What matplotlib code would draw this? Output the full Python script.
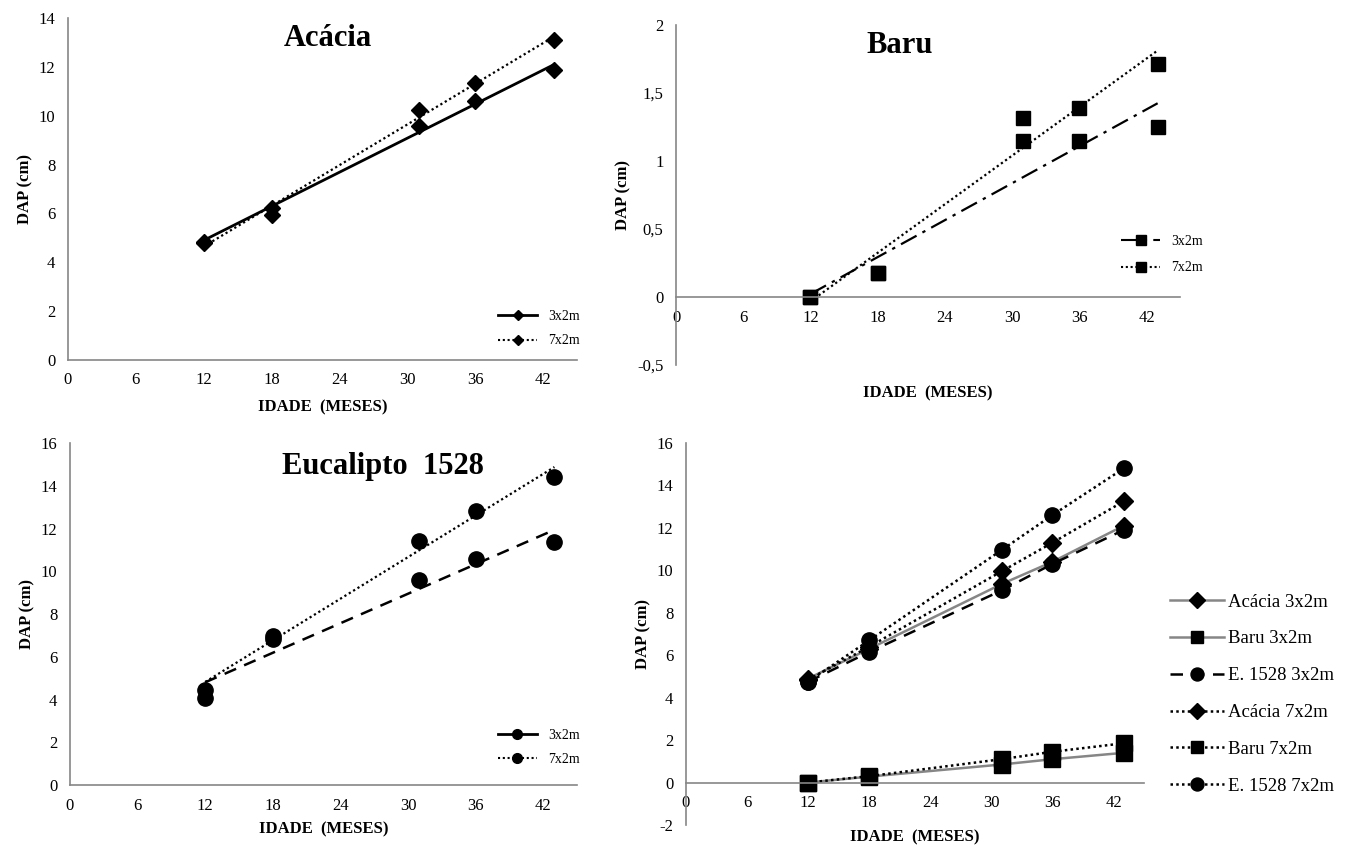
import numpy as np
import matplotlib
matplotlib.use('Agg')
from matplotlib import pyplot as plt
from matplotlib.lines import Line2D

plt.rcParams['font.family'] = ['Liberation Serif', 'DejaVu Serif']
plt.rcParams['axes.unicode_minus'] = False

# idade das plantas (meses) e ticks do eixo x
idade = [12, 18, 31, 36, 43]
meses_ticks = [0, 6, 12, 18, 24, 30, 36, 42]

# DAP medido (cm)
acacia_3x2 = [4.82, 6.22, 9.58, 10.6, 11.85]
acacia_7x2 = [4.8, 5.95, 10.25, 11.32, 13.1]
baru_3x2 = [0.0, 0.18, 1.15, 1.15, 1.25]
baru_7x2 = [0.0, 0.18, 1.32, 1.39, 1.71]
euca_3x2 = [4.05, 6.85, 9.6, 10.58, 11.36]
euca_7x2 = [4.45, 6.95, 11.44, 12.83, 14.39]

# painel conjunto
conj_acacia_3x2 = [4.9, 6.3, 9.35, 10.4, 12.1]
conj_baru_3x2 = [0.0, 0.28, 0.85, 1.1, 1.4]
conj_euca_3x2 = [4.75, 6.15, 9.05, 10.3, 11.9]
conj_acacia_7x2 = [4.85, 6.4, 9.95, 11.3, 13.25]
conj_baru_7x2 = [0.0, 0.3, 1.1, 1.45, 1.85]
conj_euca_7x2 = [4.75, 6.7, 10.95, 12.6, 14.8]

baru_yticks = [-0.5, 0, 0.5, 1, 1.5, 2]
baru_ylabels = ['-0,5', '0', '0,5', '1', '1,5', '2']

PONTO = (0, (1, 1.3))
TRACO = (0, (5, 3.5))
TRACO_PONTO = (0, (8, 3, 1.5, 3))
CINZA = '#868686'


def estilo(ax, ylim, yticks, zero=False):
    ax.set_xlim(0, 45)
    ax.set_xticks(meses_ticks)
    ax.set_ylim(ylim)
    ax.set_yticks(yticks)
    for s in ['top', 'right']:
        ax.spines[s].set_visible(False)
    for s in ['left', 'bottom']:
        ax.spines[s].set_color(CINZA)
        ax.spines[s].set_linewidth(1.2)
    if zero:
        ax.spines['bottom'].set_position(('data', 0))
    ax.tick_params(length=0, labelsize=12, pad=9)
    ax.set_ylabel('DAP (cm)', fontsize=12, fontweight='bold')


def tendencia(ax, x, y, ls, lw=1.6):
    a, b = np.polyfit(x, y, 1)
    xs = np.array([min(x), max(x)])
    ax.plot(xs, a * xs + b, ls=ls, color='k', lw=lw)


fig = plt.figure(figsize=(13.48, 8.52), dpi=100)

# --- Acacia
ax1 = fig.add_axes([0.0504, 0.5775, 0.3776, 0.4014])
estilo(ax1, (0, 14), range(0, 15, 2))
tendencia(ax1, idade, acacia_3x2, '-', 2)
tendencia(ax1, idade, acacia_7x2, PONTO)
ax1.plot(idade, acacia_3x2, 'D', color='k', ms=8.5, ls='none')
ax1.plot(idade, acacia_7x2, 'D', color='k', ms=8.5, ls='none')
ax1.text(0.51, 0.94, 'Acácia', transform=ax1.transAxes, ha='center', va='center',
         fontsize=22, fontweight='bold')
ax1.set_xlabel('IDADE  (MESES)', fontsize=12, fontweight='bold', labelpad=8)
h = [Line2D([], [], color='k', ls='-', lw=2, marker='D', ms=5),
     Line2D([], [], color='k', ls=PONTO, lw=1.5, marker='D', ms=5)]
ax1.legend(h, ['3x2m', '7x2m'], frameon=False, fontsize=10, loc='lower right',
           bbox_to_anchor=(1.03, 0.0), handlelength=2.8, labelspacing=0.8)

# --- Baru
ax2 = fig.add_axes([0.5015, 0.5716, 0.3739, 0.399])
estilo(ax2, (-0.5, 2), baru_yticks, zero=True)
ax2.set_yticklabels(baru_ylabels)
tendencia(ax2, idade, baru_3x2, TRACO_PONTO)
tendencia(ax2, idade, baru_7x2, PONTO)
ax2.plot(idade, baru_3x2, 's', color='k', ms=10, ls='none')
ax2.plot(idade, baru_7x2, 's', color='k', ms=10, ls='none')
ax2.text(0.444, 0.94, 'Baru', transform=ax2.transAxes, ha='center', va='center',
         fontsize=22, fontweight='bold')
ax2.set_xlabel('IDADE  (MESES)', fontsize=12, fontweight='bold')
ax2.xaxis.set_label_coords(0.5, -0.06)
h = [Line2D([], [], color='k', ls=TRACO_PONTO, lw=1.5, marker='s', ms=7),
     Line2D([], [], color='k', ls=PONTO, lw=1.5, marker='s', ms=7)]
ax2.legend(h, ['3x2m', '7x2m'], frameon=False, fontsize=10, loc='center right',
           bbox_to_anchor=(1.07, 0.325), handlelength=2.8, labelspacing=1.0)

# --- Eucalipto 1528
ax3 = fig.add_axes([0.0519, 0.0786, 0.3761, 0.4014])
estilo(ax3, (0, 16), range(0, 17, 2))
tendencia(ax3, idade, euca_3x2, TRACO, 1.8)
tendencia(ax3, idade, euca_7x2, PONTO)
ax3.plot(idade, euca_3x2, 'o', color='k', ms=11, ls='none')
ax3.plot(idade, euca_7x2, 'o', color='k', ms=11, ls='none')
ax3.text(0.617, 0.93, 'Eucalipto  1528', transform=ax3.transAxes, ha='center',
         va='center', fontsize=22, fontweight='bold')
ax3.set_xlabel('IDADE  (MESES)', fontsize=12, fontweight='bold', labelpad=6)
h = [Line2D([], [], color='k', ls='-', lw=2, marker='o', ms=7),
     Line2D([], [], color='k', ls=PONTO, lw=1.5, marker='o', ms=7)]
ax3.legend(h, ['3x2m', '7x2m'], frameon=False, fontsize=10, loc='lower right',
           bbox_to_anchor=(1.03, 0.02), handlelength=2.8, labelspacing=0.8)

# --- todas as especies
ax4 = fig.add_axes([0.5089, 0.0317, 0.3398, 0.4484])
estilo(ax4, (-2, 16), range(-2, 17, 2), zero=True)
series = [
    (conj_acacia_3x2, 'Acácia 3x2m', '-', 'D', CINZA, 9),
    (conj_baru_3x2, 'Baru 3x2m', '-', 's', CINZA, 11),
    (conj_euca_3x2, 'E. 1528 3x2m', TRACO, 'o', 'k', 11),
    (conj_acacia_7x2, 'Acácia 7x2m', PONTO, 'D', 'k', 9),
    (conj_baru_7x2, 'Baru 7x2m', PONTO, 's', 'k', 11),
    (conj_euca_7x2, 'E. 1528 7x2m', PONTO, 'o', 'k', 11),
]
for vals, nome, ls, mk, cor, ms in series:
    ax4.plot(idade, vals, ls=ls, color=cor, lw=1.8, marker=mk, ms=ms,
             mfc='k', mec='k', label=nome)
ax4.set_xlabel('IDADE  (MESES)', fontsize=12, fontweight='bold')
ax4.xaxis.set_label_coords(0.5, -0.012)
ax4.legend(frameon=False, fontsize=13.5, loc='upper left', bbox_to_anchor=(1.02, 0.65),
           handlelength=2.9, handletextpad=0.2, labelspacing=1.05, markerscale=0.85)

fig.savefig('out.png', dpi=100)
